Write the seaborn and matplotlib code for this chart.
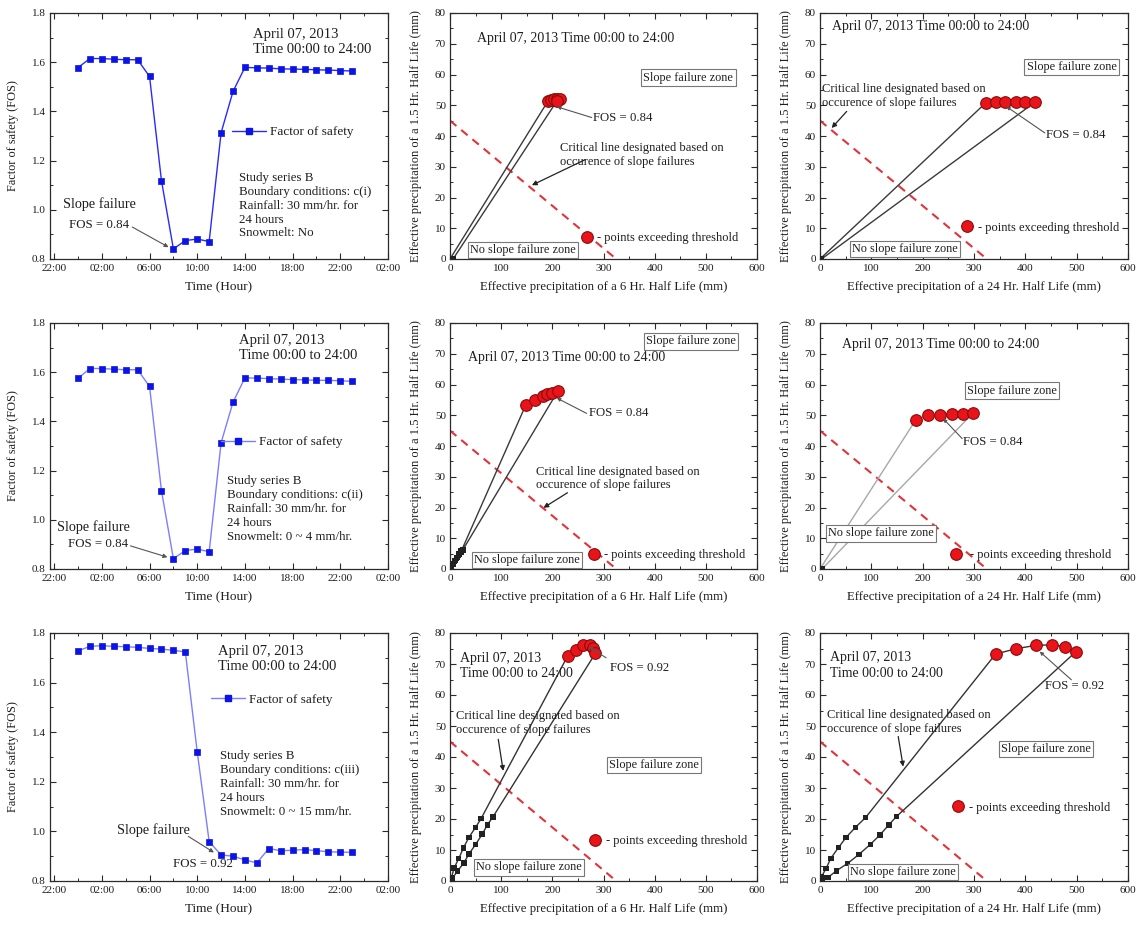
import matplotlib
matplotlib.use("Agg")
import matplotlib.pyplot as plt
from matplotlib.lines import Line2D
from matplotlib.ticker import MultipleLocator, FuncFormatter
from matplotlib.transforms import offset_copy
import pandas as pd
import seaborn as sns

# ---------------- factor of safety, hourly (00:00 .. 23:00) ----------------
hours = list(range(24))
fos_ci = [1.578, 1.615, 1.615, 1.612, 1.610, 1.610, 1.542, 1.118, 0.841, 0.875,
          0.881, 0.871, 1.313, 1.481, 1.579, 1.577, 1.576, 1.573, 1.572, 1.571,
          1.569, 1.568, 1.566, 1.564]
fos_cii = [1.575, 1.615, 1.615, 1.612, 1.610, 1.610, 1.542, 1.118, 0.842, 0.875,
           0.881, 0.870, 1.313, 1.478, 1.577, 1.576, 1.574, 1.572, 1.570, 1.569,
           1.567, 1.567, 1.565, 1.563]
fos_ciii = [1.728, 1.746, 1.749, 1.746, 1.745, 1.742, 1.738, 1.735, 1.730, 1.724,
            1.320, 0.959, 0.905, 0.900, 0.885, 0.873, 0.931, 0.922, 0.924, 0.927,
            0.922, 0.918, 0.916, 0.916]
time_ticks = [-2, 2, 6, 10, 14, 18, 22, 26]

# ---------------- effective precipitation snake lines ----------------
# c(i) : 6 hr half life vs 1.5 hr half life
ci6_rise_x, ci6_rise_y = [0], [0]
ci6_red_x = [192, 198, 204, 210, 215, 209]
ci6_red_y = [51.5, 51.8, 52.0, 52.1, 51.9, 51.4]
ci6_fall_x, ci6_fall_y = [6], [0]
# c(i) : 24 hr half life
ci24_rise_x, ci24_rise_y = [0], [0]
ci24_red_x = [323, 342, 361, 381, 400, 418]
ci24_red_y = [50.8, 50.9, 50.9, 51.0, 51.0, 50.9]
ci24_fall_x, ci24_fall_y = [3], [0]
# c(ii) : 6 hr half life
cii6_rise_x = [0, 3, 6, 10, 14, 18, 22]
cii6_rise_y = [0, 0.8, 1.7, 2.7, 3.7, 4.8, 5.8]
cii6_red_x = [148, 167, 181, 190, 199, 211]
cii6_red_y = [53.3, 55.0, 56.2, 56.8, 57.3, 57.9]
cii6_fall_x = [25, 21, 17, 13, 9, 5, 2]
cii6_fall_y = [6.2, 5.4, 4.5, 3.5, 2.5, 1.4, 0.5]
# c(ii) : 24 hr half life
cii24_rise_x, cii24_rise_y = [0], [0]
cii24_red_x = [187, 211, 234, 257, 279, 298]
cii24_red_y = [48.6, 50.0, 50.2, 50.4, 50.5, 50.7]
cii24_fall_x, cii24_fall_y = [4], [0]
# c(iii) : 6 hr half life
ciii6_rise_x = [3, 8, 17, 26, 37, 50, 61]
ciii6_rise_y = [1.2, 4.2, 7.2, 10.6, 14.1, 17.3, 20.2]
ciii6_red_x = [230, 246, 260, 273, 280, 284]
ciii6_red_y = [72.6, 74.4, 76.2, 76.0, 75.2, 73.4]
ciii6_fall_x = [84, 73, 63, 50, 37, 27, 15, 4]
ciii6_fall_y = [20.7, 18.1, 15.1, 11.8, 8.7, 5.8, 3.3, 0.7]
# c(iii) : 24 hr half life
ciii24_rise_x = [3, 12, 21, 36, 51, 69, 89]
ciii24_rise_y = [1.4, 4.1, 7.3, 10.8, 14.1, 17.3, 20.5]
ciii24_red_x = [342, 381, 420, 451, 477, 498]
ciii24_red_y = [73.2, 74.9, 76.0, 76.2, 75.6, 73.9]
ciii24_fall_x = [149, 134, 117, 98, 76, 54, 32, 16, 5]
ciii24_fall_y = [20.8, 18.1, 14.9, 11.8, 8.6, 5.7, 3.3, 1.2, 1.0]

# critical line designated from observed slope failures
crit_x = [0, 325]
crit_y = [45, 0]

# ---------------- style ----------------
sns.set_theme(style="ticks")
TXT = "#1e1e1e"
plt.rcParams.update({
    "font.family": ["Liberation Serif", "DejaVu Serif"],
    "text.color": TXT,
    "axes.labelcolor": TXT,
    "axes.edgecolor": "#2a2a2a",
    "axes.linewidth": 0.9,
    "xtick.color": "#2a2a2a",
    "ytick.color": "#2a2a2a",
    "xtick.labelcolor": TXT,
    "ytick.labelcolor": TXT,
    "xtick.direction": "in",
    "ytick.direction": "in",
    "xtick.top": True,
    "ytick.right": True,
    "xtick.major.size": 4,
    "ytick.major.size": 4,
    "xtick.minor.size": 2.2,
    "ytick.minor.size": 2.2,
    "xtick.major.width": 0.8,
    "ytick.major.width": 0.8,
    "xtick.minor.width": 0.7,
    "ytick.minor.width": 0.7,
    "xtick.labelsize": 8.0,
    "ytick.labelsize": 8.0,
    "xtick.major.pad": 3.5,
    "ytick.major.pad": 3.0,
})

RED = "#e8141a"
RED_EDGE = "#8a0a0a"
BLUE_MARK = "#0a14e6"
CRIT_RED = "#e2333a"

W, H = 1140, 926
fig = plt.figure(figsize=(W / 100, H / 100), dpi=100)
fig.patch.set_facecolor("white")

col_lr = [(50, 388), (450, 757), (820, 1128)]
row_tb = [(13, 259), (323, 569), (633, 881)]


def make_axes(col, row):
    l, r = col_lr[col]
    t, b = row_tb[row]
    return fig.add_axes([l / W, 1 - b / H, (r - l) / W, (b - t) / H])


def draw_fos(ax, fos, line_color, study, notes):
    df = pd.DataFrame({"Hour": hours, "FOS": fos})
    sns.lineplot(data=df, x="Hour", y="FOS", ax=ax, color=line_color, lw=1.0,
                 marker="s", markersize=4.6, markerfacecolor=BLUE_MARK,
                 markeredgecolor=BLUE_MARK, markeredgewidth=0.5, legend=False)
    ax.set_xlim(-2.35, 26.0)
    ax.set_ylim(0.8, 1.8)
    ax.xaxis.set_major_locator(plt.FixedLocator(time_ticks))
    ax.xaxis.set_major_formatter(FuncFormatter(lambda v, p: f"{int(round(v)) % 24:02d}:00"))
    ax.xaxis.set_minor_locator(MultipleLocator(2))
    ax.yaxis.set_major_locator(MultipleLocator(0.2))
    ax.yaxis.set_major_formatter(FuncFormatter(lambda v, p: f"{v:.1f}"))
    ax.yaxis.set_minor_locator(MultipleLocator(0.1))
    ax.set_xlabel("Time (Hour)", fontsize=9.5, labelpad=6)
    ax.set_ylabel("Factor of safety (FOS)", fontsize=8.8, labelpad=9)

    handle = Line2D([], [], color=line_color, lw=1.0, marker="s", markersize=4.6,
                    markerfacecolor=BLUE_MARK, markeredgecolor=BLUE_MARK)
    ax.legend([handle], ["Factor of safety"], loc="center left",
              bbox_to_anchor=notes["legend"], frameon=False, fontsize=9.5,
              handlelength=2.6, handletextpad=0.3, borderpad=0, borderaxespad=0,
              numpoints=1)

    dx, dy = notes["date"]
    ax.text(dx, dy, "April 07, 2013\nTime 00:00 to 24:00", fontsize=10.5,
            ha="left", va="center", linespacing=1.25)
    sx, sy = notes["study"]
    ax.text(sx, sy, "\n".join(study), fontsize=9.3, ha="left", va="center",
            linespacing=1.2)
    fx, fy = notes["failure"]
    ax.text(fx, fy, "Slope failure", fontsize=10.3, ha="center", va="center")
    lx, ly = notes["fos"]
    ax.text(lx, ly, notes["fos_text"], fontsize=9.3, ha="center", va="center")
    ax.annotate("", xy=notes["arrow"][1], xytext=notes["arrow"][0],
                arrowprops=dict(arrowstyle="-|>", color="#555555", lw=0.8,
                                mutation_scale=6, shrinkA=0, shrinkB=0))


def add_key(ax, x, y, gap):
    fs = 9
    hl = 1.0
    handle = Line2D([], [], ls="none", marker="o", markersize=8.4,
                    markerfacecolor=RED, markeredgecolor=RED_EDGE, markeredgewidth=0.8)
    trans = offset_copy(ax.transData, fig=fig, x=-hl * fs / 2, units="points")
    ax.legend([handle], ["- points exceeding threshold"], loc="center left",
              bbox_to_anchor=(x, y), bbox_transform=trans, frameon=False,
              fontsize=fs, handlelength=hl, handletextpad=gap, borderpad=0,
              borderaxespad=0, numpoints=1)


def zone_box(ax, x, y, text):
    ax.text(x, y, text, fontsize=8.8, ha="center", va="center", zorder=6,
            bbox=dict(boxstyle="square,pad=0.18", fc="white", ec="#777777", lw=0.8))


def draw_precip(ax, rise_x, rise_y, red_x, red_y, fall_x, fall_y, path_color,
                half_life, notes):
    path = pd.DataFrame({"x": rise_x + red_x + fall_x, "y": rise_y + red_y + fall_y})
    sns.lineplot(data=path, x="x", y="y", sort=False, estimator=None, ax=ax,
                 color=path_color, lw=1.0, legend=False, zorder=3)
    dry = pd.DataFrame({"x": rise_x + fall_x, "y": rise_y + fall_y})
    sns.scatterplot(data=dry, x="x", y="y", marker="s", s=16, color="#222222",
                    edgecolor="none", ax=ax, legend=False, zorder=4)
    crit = pd.DataFrame({"x": crit_x, "y": crit_y})
    sns.lineplot(data=crit, x="x", y="y", ax=ax, color=CRIT_RED, lw=1.5,
                 linestyle=(0, (4, 3)), legend=False, zorder=2)
    wet = pd.DataFrame({"x": red_x, "y": red_y})
    sns.scatterplot(data=wet, x="x", y="y", s=70, color=RED, edgecolor=RED_EDGE,
                    linewidth=0.8, ax=ax, legend=False, zorder=5)

    ax.set_xlim(0, 600)
    ax.set_ylim(0, 80)
    ax.xaxis.set_major_locator(MultipleLocator(100))
    ax.xaxis.set_minor_locator(MultipleLocator(50))
    ax.yaxis.set_major_locator(MultipleLocator(10))
    ax.yaxis.set_minor_locator(MultipleLocator(5))
    ax.set_xlabel(f"Effective precipitation of a {half_life} Hr. Half Life (mm)",
                  fontsize=9.2, labelpad=6)
    ax.set_ylabel("Effective precipitation of a 1.5 Hr. Half Life (mm)",
                  fontsize=9.0, labelpad=9)

    dx, dy, dtext = notes["date"]
    ax.text(dx, dy, dtext, fontsize=10, ha="left", va="center", linespacing=1.25)
    zone_box(ax, *notes["fail_zone"], "Slope failure zone")
    zone_box(ax, *notes["safe_zone"], "No slope failure zone")
    fx, fy, ftext = notes["fos"]
    ax.text(fx, fy, ftext, fontsize=9.2, ha="left", va="center")
    ax.annotate("", xy=notes["fos_arrow"][1], xytext=notes["fos_arrow"][0],
                arrowprops=dict(arrowstyle="-|>", color="#555555", lw=0.8,
                                mutation_scale=5, shrinkA=0, shrinkB=0), zorder=6)
    if notes.get("crit") is not None:
        cx, cy = notes["crit"]
        ax.text(cx, cy, "Critical line designated based on\noccurence of slope failures",
                fontsize=9.0, ha="left", va="center", linespacing=1.2)
        ax.annotate("", xy=notes["crit_arrow"][1], xytext=notes["crit_arrow"][0],
                    arrowprops=dict(arrowstyle="-|>", color="#222222", lw=0.9,
                                    mutation_scale=7, shrinkA=0, shrinkB=0), zorder=6)
    kx, ky, gap = notes["key"]
    add_key(ax, kx, ky, gap)


# ---------------- left column: factor of safety ----------------
draw_fos(make_axes(0, 0), fos_ci, "#2a2aff",
         ["Study series B", "Boundary conditions: c(i)", "Rainfall: 30 mm/hr. for",
          "24 hours", "Snowmelt: No"],
         {"legend": (0.538, 0.516), "date": (14.7, 1.682), "study": (13.5, 1.016),
          "failure": (1.8, 1.024), "fos": (1.8, 0.939), "fos_text": "FOS = 0.84",
          "arrow": ((4.55, 0.93), (7.6, 0.848))})
draw_fos(make_axes(0, 1), fos_cii, "#7d7dff",
         ["Study series B", "Boundary conditions: c(ii)", "Rainfall: 30 mm/hr. for",
          "24 hours", "Snowmelt: 0 ~ 4 mm/hr."],
         {"legend": (0.506, 0.516), "date": (13.5, 1.699), "study": (12.5, 1.044),
          "failure": (1.33, 0.972), "fos": (1.67, 0.902), "fos_text": "FOS = 0.84",
          "arrow": ((4.4, 0.894), (7.5, 0.848))})
draw_fos(make_axes(0, 2), fos_ciii, "#7d7dff",
         ["Study series B", "Boundary conditions: c(iii)", "Rainfall: 30 mm/hr. for",
          "24 hours", "Snowmelt: 0 ~ 15 mm/hr."],
         {"legend": (0.475, 0.73), "date": (11.75, 1.695), "study": (11.9, 1.191),
          "failure": (6.3, 1.006), "fos": (10.5, 0.869), "fos_text": "FOS = 0.92",
          "arrow": ((9.25, 0.98), (11.4, 0.915))})

# ---------------- middle and right columns: snake lines ----------------
one_line = "April 07, 2013 Time 00:00 to 24:00"
two_line = "April 07, 2013\nTime 00:00 to 24:00"

draw_precip(make_axes(1, 0), ci6_rise_x, ci6_rise_y, ci6_red_x, ci6_red_y,
            ci6_fall_x, ci6_fall_y, "#3a3a3a", "6",
            {"date": (53.5, 71.6, one_line), "fail_zone": (466, 59), "safe_zone": (143, 3),
             "fos": (280, 46, "FOS = 0.84"), "fos_arrow": ((277, 46), (209, 49.5)),
             "crit": (215, 33.7), "crit_arrow": ((264, 32.3), (160, 24)),
             "key": (268.7, 6.8, 0.25)})
draw_precip(make_axes(2, 0), ci24_rise_x, ci24_rise_y, ci24_red_x, ci24_red_y,
            ci24_fall_x, ci24_fall_y, "#3a3a3a", "24",
            {"date": (22.7, 75.5, one_line), "fail_zone": (490, 62.5), "safe_zone": (165, 3.2),
             "fos": (441, 40.4, "FOS = 0.84"), "fos_arrow": ((438, 41), (363, 49.6)),
             "crit": (3.2, 53.1), "crit_arrow": ((52, 48), (22.7, 42.6)),
             "key": (287, 10.2, 0.35)})
draw_precip(make_axes(1, 1), cii6_rise_x, cii6_rise_y, cii6_red_x, cii6_red_y,
            cii6_fall_x, cii6_fall_y, "#3a3a3a", "6",
            {"date": (34.6, 68.7, one_line), "fail_zone": (471, 74), "safe_zone": (151, 3),
             "fos": (270.7, 50.6, "FOS = 0.84"), "fos_arrow": ((267, 50.6), (208.7, 55.6)),
             "crit": (167.6, 29.4), "crit_arrow": ((229.6, 24.8), (182.6, 19.9)),
             "key": (281.7, 4.4, 0.25)})
draw_precip(make_axes(2, 1), cii24_rise_x, cii24_rise_y, cii24_red_x, cii24_red_y,
            cii24_fall_x, cii24_fall_y, "#a8a8a8", "24",
            {"date": (43.2, 73, one_line), "fail_zone": (374, 58), "safe_zone": (119, 11.6),
             "fos": (279, 41.3, "FOS = 0.84"), "fos_arrow": ((277, 42.4), (240, 48.9)),
             "crit": None, "key": (265.8, 4.5, 0.6)})
draw_precip(make_axes(1, 2), ciii6_rise_x, ciii6_rise_y, ciii6_red_x, ciii6_red_y,
            ciii6_fall_x, ciii6_fall_y, "#333333", "6",
            {"date": (19.5, 69.4, two_line), "fail_zone": (399, 37.4), "safe_zone": (154, 4.4),
             "fos": (312, 68.7, "FOS = 0.92"), "fos_arrow": ((305, 72), (272, 75.5)),
             "crit": (11.7, 51), "crit_arrow": ((94.3, 45.7), (104, 35.5)),
             "key": (284, 12.8, 0.35)})
draw_precip(make_axes(2, 2), ciii24_rise_x, ciii24_rise_y, ciii24_red_x, ciii24_red_y,
            ciii24_fall_x, ciii24_fall_y, "#333333", "24",
            {"date": (19.5, 69.5, two_line), "fail_zone": (440, 42.5), "safe_zone": (161, 3),
             "fos": (437.8, 62.8, "FOS = 0.92"), "fos_arrow": ((489.7, 64.9), (428, 74)),
             "crit": (13, 51.4), "crit_arrow": ((152.4, 46.6), (162, 36.9)),
             "key": (269, 23.7, 0.35)})

fig.savefig("out.png", dpi=100, facecolor="white")
